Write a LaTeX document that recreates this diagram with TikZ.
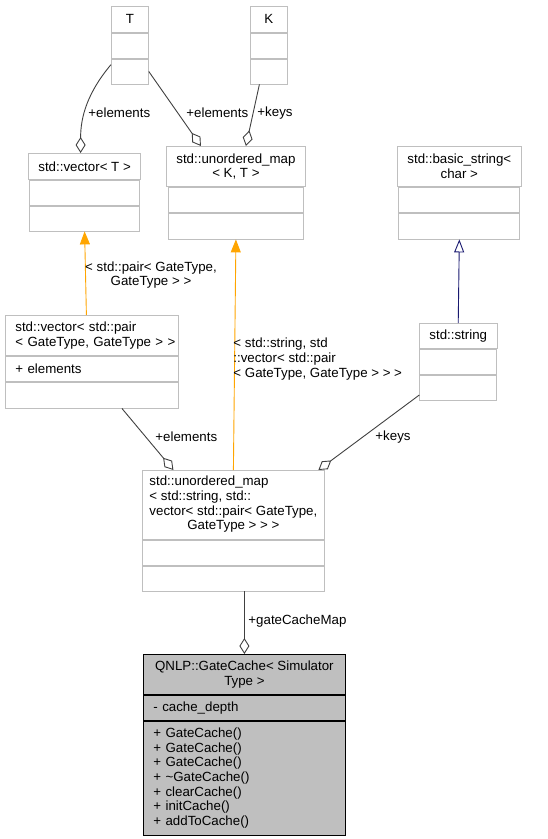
\documentclass[tikz,border=0pt]{standalone}
\usepackage{fontspec}
\setmainfont{Liberation Sans}
\usetikzlibrary{positioning,arrows.meta}
\definecolor{boxgray}{HTML}{BFBFBF}
\definecolor{edgegray}{HTML}{404040}
\definecolor{tmplorange}{HTML}{FFA500}
\definecolor{inhnavy}{HTML}{191970}
\begin{document}
\begin{tikzpicture}[x=1pt, y=-1pt, font=\fontsize{13.3}{14.7}\selectfont,
		cls/.style={draw=boxgray, fill=white, line width=0.8pt, inner xsep=10pt, inner ysep=0pt, anchor=north west},
		part/.style={draw=boxgray, fill=white, line width=0.8pt, inner xsep=10pt, inner ysep=0pt},
		agg/.style={draw=edgegray, line width=0.9pt, -{Diamond[open, length=16pt, width=10pt]}},
		tmpl/.style={draw=tmplorange, line width=0.9pt, -{Triangle[length=13pt, width=10pt]}},
		inh/.style={draw=inhnavy, line width=0.9pt, -{Triangle[open, length=13pt, width=10pt]}},
		lbl/.style={anchor=west, inner sep=0pt, align=left}]
			\useasboundingbox (0,0) rectangle (547,839);

			\node[cls, minimum width=37pt, minimum height=26pt] (T) at (111,6) {T};
			\node[part, minimum width=37pt, minimum height=25pt, below=0pt of T] (Ta) {};
			\node[part, minimum width=37pt, minimum height=25pt, below=0pt of Ta] (Tm) {};

			\node[cls, minimum width=37pt, minimum height=26pt] (K) at (250,6) {K};
			\node[part, minimum width=37pt, minimum height=25pt, below=0pt of K] (Ka) {};
			\node[part, minimum width=37pt, minimum height=25pt, below=0pt of Ka] (Km) {};

			\node[cls, minimum width=110pt, minimum height=26pt] (vecT) at (28,153) {std::vector< T >};
			\node[part, minimum width=110pt, minimum height=25pt, below=0pt of vecT] (vecTa) {};
			\node[part, minimum width=110pt, minimum height=25pt, below=0pt of vecTa] (vecTm) {};

			\node[cls, minimum width=135pt, minimum height=40pt, align=center] (mapKT) at (166,146) {std::unordered\_map\\< K, T >};
			\node[part, minimum width=135pt, minimum height=25pt, below=0pt of mapKT] (mapKTa) {};
			\node[part, minimum width=135pt, minimum height=26pt, below=0pt of mapKTa] (mapKTm) {};

			\node[cls, minimum width=121pt, minimum height=40pt, align=center] (bstr) at (397,146) {std::basic\_string<\\char >};
			\node[part, minimum width=121pt, minimum height=25pt, below=0pt of bstr] (bstra) {};
			\node[part, minimum width=121pt, minimum height=26pt, below=0pt of bstra] (bstrm) {};

			\node[cls, minimum width=173pt, minimum height=40pt, text width=153pt, align=left] (vecpair) at (5,315) {\mbox{std::vector< std::pair}\\\mbox{< GateType, GateType > >}};
			\node[part, minimum width=173pt, minimum height=25pt, text width=153pt, align=left, below=0pt of vecpair] (vecpaira) {+ elements};
			\node[part, minimum width=173pt, minimum height=26pt, below=0pt of vecpaira] (vecpairm) {};

			\node[cls, minimum width=77pt, minimum height=25pt] (str) at (419,323) {std::string};
			\node[part, minimum width=77pt, minimum height=25pt, below=0pt of str] (stra) {};
			\node[part, minimum width=77pt, minimum height=25pt, below=0pt of stra] (strm) {};

			\node[cls, inner xsep=0pt, minimum width=182pt, minimum height=69pt] (gmap) at (142,470) {\begin{tabular}{@{}l@{}}std::unordered\_map\\< std::string, std::\\vector< std::pair< GateType,\\\multicolumn{1}{@{}c@{}}{GateType > > >}\end{tabular}};
			\node[part, minimum width=182pt, minimum height=25pt, below=0pt of gmap] (gmapa) {};
			\node[part, minimum width=182pt, minimum height=25pt, below=0pt of gmapa] (gmapm) {};

			\node[cls, draw=black, fill=boxgray, minimum width=202pt, minimum height=40pt, align=center] (cache) at (143,654) {QNLP::GateCache< Simulator\\Type >};
			\node[part, draw=black, fill=boxgray, minimum width=202pt, minimum height=25pt, text width=182pt, align=left, below=0pt of cache] (cachea) {- cache\_depth};
			\node[part, draw=black, fill=boxgray, minimum width=202pt, minimum height=114pt, text width=182pt, align=left, below=0pt of cachea] (cachem) {+ GateCache()\\+ GateCache()\\+ GateCache()\\+ \textasciitilde GateCache()\\+ clearCache()\\+ initCache()\\+ addToCache()};

			\draw[agg] ([yshift=-6pt]Tm.north west) to[out=230, in=90] ([xshift=-4pt]vecT.north) node[lbl] at (88,113) {+elements};
			\draw[agg] (Tm.east) -- ([xshift=-35pt]mapKT.north) node[lbl] at (186,113) {+elements};
			\draw[agg] ([xshift=-9.5pt]Km.south) -- ([xshift=10pt]mapKT.north) node[lbl] at (257,113) {+keys};
			\draw[tmpl] ([xshift=-5.5pt]vecpair.north) -- (vecTm.south) node[align=center, inner sep=0pt] at (151,275) {< std::pair< GateType,\\GateType > >};
			\draw[tmpl] (gmap.north) -- (mapKTm.south) node[lbl] at (233,359) {< std::string, std\\::vector< std::pair\\< GateType, GateType > > >};
			\draw[inh] (str.north) -- (bstrm.south);
			\draw[agg] ([xshift=30pt]vecpairm.south) -- ([xshift=-60pt]gmap.north) node[lbl] at (155,437) {+elements};
			\draw[agg] ([yshift=-7.5pt]strm.west) -- ([xshift=85pt]gmap.north) node[lbl] at (375,437) {+keys};
			\draw[agg] (gmapm.south -| cache.north) -- (cache.north) node[lbl] at (248,621) {+gateCacheMap};
\end{tikzpicture}
\end{document}
